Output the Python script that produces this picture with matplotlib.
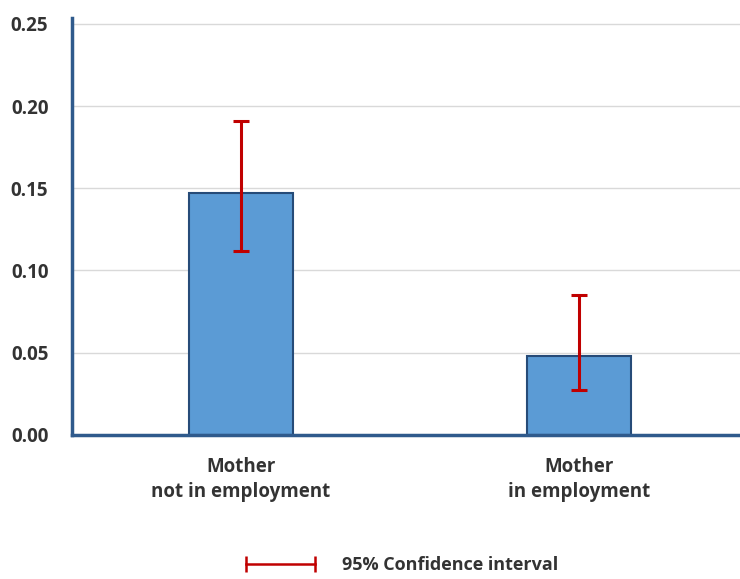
import matplotlib.pyplot as plt
from matplotlib.lines import Line2D

categories = ['Mother\nnot in employment', 'Mother\nin employment']
values = [0.147, 0.048]
ci_low = [0.112, 0.027]
ci_high = [0.191, 0.085]
yticks = [0.00, 0.05, 0.10, 0.15, 0.20, 0.25]

plt.rcParams['font.family'] = ['Open Sans', 'DejaVu Sans']

fig = plt.figure(figsize=(7.40, 5.79), dpi=100)
ax = fig.add_axes([0.0973, 0.249, 0.9135, 0.72])

x = range(len(categories))
err = [[v - lo for v, lo in zip(values, ci_low)],
       [hi - v for v, hi in zip(values, ci_high)]]
ax.bar(x, values, width=0.31, color='#5B9BD5', edgecolor='#264B78', linewidth=1.5, zorder=2)
ax.errorbar(x, values, yerr=err, fmt='none', ecolor='#C00000', elinewidth=2.2,
            capsize=6, capthick=2.2, zorder=3)

ax.set_xlim(-0.5, 1.5)
ax.set_ylim(0, 0.2536)
ax.set_yticks(yticks)
ax.set_yticklabels([f'{t:.2f}' for t in yticks], fontsize=13.5, fontweight='bold', color='#333333')
ax.set_xticks(list(x))
ax.set_xticklabels(categories, fontsize=13.5, fontweight='bold', color='#333333', linespacing=1.3)
ax.tick_params(axis='both', length=0)
ax.tick_params(axis='x', pad=16)
ax.tick_params(axis='y', pad=17)
ax.grid(axis='y', color='#D9D9D9', linewidth=1, zorder=0)
ax.set_axisbelow(True)
for s in ['top', 'right']:
    ax.spines[s].set_visible(False)
for s in ['left', 'bottom']:
    ax.spines[s].set_color('#2F5A8C')
    ax.spines[s].set_linewidth(2.5)

handle = Line2D([], [], color='#C00000', linewidth=1.8, marker='|', markersize=11,
                markeredgewidth=1.8)
fig.legend(handles=[handle], labels=['95% Confidence interval'], numpoints=2,
           handlelength=4.4, frameon=False, loc='center', bbox_to_anchor=(0.54, 0.024),
           prop={'size': 13, 'weight': 'bold'}, labelcolor='#333333', handletextpad=1.2)

fig.savefig('out.png', dpi=100)
